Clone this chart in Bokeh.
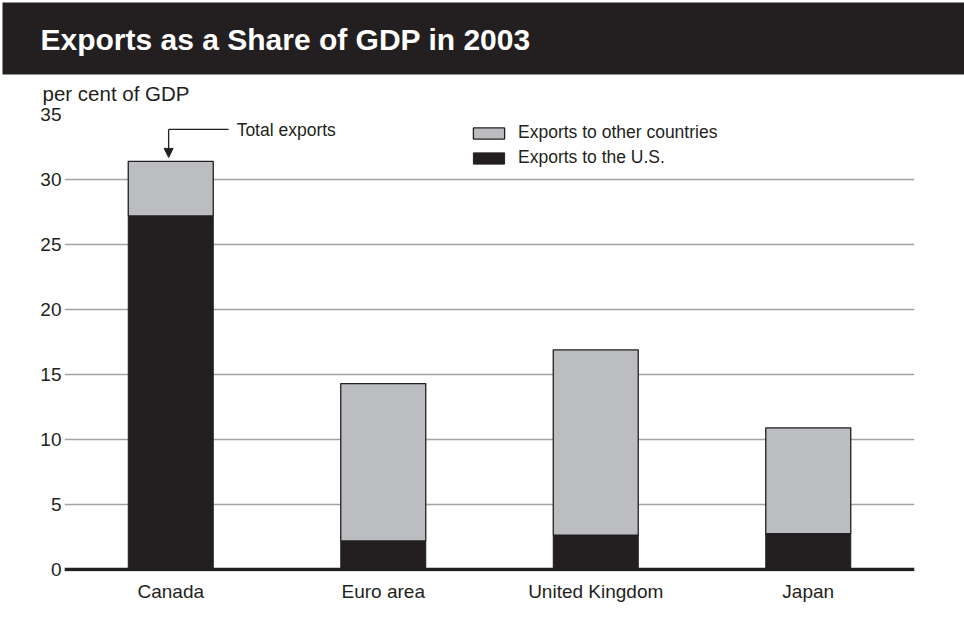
from bokeh.plotting import figure
from bokeh.models import (Range1d, FixedTicker, Label, Arrow, NormalHead, Span,
                          Legend, LegendItem, ColumnDataSource, Title)
from bokeh.embed import file_html
from bokeh.resources import INLINE

# ---- data ----
TITLE = "Exports as a Share of GDP in 2003"
Y_LABEL = "per cent of GDP"
categories = ["Canada", "Euro area", "United Kingdom", "Japan"]
exports_us = [27.2, 2.2, 2.65, 2.75]
exports_other = [4.2, 12.1, 14.25, 8.15]
y_ticks = [0, 5, 10, 15, 20, 25, 30, 35]
legend_labels = ["Exports to other countries", "Exports to the U.S."]
callout_text = "Total exports"

BLACK = "#231f20"
GRAY = "#bcbdc0"
GRID = "#a3a3a3"
FONT = "Liberation Sans"

idx = list(range(len(categories)))
totals = [u + o for u, o in zip(exports_us, exports_other)]
src = ColumnDataSource(dict(x=idx, us=exports_us, total=totals))

p = figure(width=964, height=638, x_range=Range1d(-0.5, 3.5), y_range=Range1d(-2 / 13, 35),
           output_backend="svg", toolbar_location=None,
           min_border_left=64, min_border_right=50, min_border_top=114, min_border_bottom=67,
           outline_line_color=None, background_fill_color="white", border_fill_color="white")

# titles (stacked outward from the frame); padding order is (left, right, top, bottom)
p.add_layout(Title(text=Y_LABEL, align="left", offset=-22, standoff=15, vertical_align="top",
                   text_font=FONT, text_font_size="20.5px", text_font_style="normal",
                   text_color=BLACK), "above")
p.add_layout(Title(text=TITLE, align="left", offset=-62, standoff=0,
                   text_font=FONT, text_font_size="30px", text_font_style="bold",
                   text_color="white", background_fill_color=BLACK,
                   padding=(38, 440, 20, 19)), "above")

p.xgrid.visible = False
p.ygrid.grid_line_color = GRID
p.ygrid.grid_line_width = 1.3

p.yaxis.ticker = FixedTicker(ticks=y_ticks)
p.yaxis.axis_line_color = None
p.yaxis.major_tick_line_color = None
p.yaxis.major_tick_out = 0
p.yaxis.major_tick_in = 0
p.yaxis.minor_tick_line_color = None
p.yaxis.major_label_standoff = 3
p.yaxis.major_label_text_font = FONT
p.yaxis.major_label_text_font_size = "19px"
p.yaxis.major_label_text_color = BLACK

p.xaxis.ticker = FixedTicker(ticks=idx)
p.xaxis.major_label_overrides = {i: c for i, c in zip(idx, categories)}
p.xaxis.axis_line_color = None
p.xaxis.major_tick_line_color = None
p.xaxis.major_tick_out = 0
p.xaxis.major_tick_in = 0
p.xaxis.minor_tick_line_color = None
p.xaxis.major_label_standoff = 9
p.xaxis.major_label_text_font = FONT
p.xaxis.major_label_text_font_size = "19px"
p.xaxis.major_label_text_color = BLACK

r_us = p.vbar(x="x", bottom=0, top="us", width=0.4, source=src,
              fill_color=BLACK, line_color=BLACK, line_width=1)
r_other = p.vbar(x="x", bottom="us", top="total", width=0.4, source=src,
                 fill_color=GRAY, line_color=BLACK, line_width=1.3)

p.add_layout(Span(location=0, dimension="width", line_color=BLACK, line_width=3.5))

legend = Legend(items=[LegendItem(label=legend_labels[0], renderers=[r_other]),
                       LegendItem(label=legend_labels[1], renderers=[r_us])],
                location=(405, 403), orientation="vertical",
                glyph_width=39, glyph_height=14, label_height=20, spacing=4,
                label_standoff=10, padding=0, margin=0,
                label_text_font=FONT, label_text_font_size="17.5px", label_text_color=BLACK,
                border_line_color=None, background_fill_alpha=0)
p.add_layout(legend, "center")

# "Total exports" callout pointing at the Canada bar
c_x = idx[0]
c_top = totals[0]
elbow_y = c_top + 2.45
p.segment(x0=[c_x - 0.01], y0=[elbow_y], x1=[c_x + 0.272], y1=[elbow_y],
          line_color=BLACK, line_width=1.3)
p.add_layout(Arrow(x_start=c_x - 0.01, y_start=elbow_y, x_end=c_x - 0.01, y_end=c_top + 0.3,
                   line_color=BLACK, line_width=1.3,
                   end=NormalHead(size=9, fill_color=BLACK, line_color=BLACK, line_width=1)))
p.add_layout(Label(x=c_x + 0.31, y=c_top + 2.37, text=callout_text, text_font=FONT,
                   text_font_size="17.5px", text_color=BLACK, text_baseline="alphabetic"))

open("out.html", "w").write(file_html(p, INLINE))
